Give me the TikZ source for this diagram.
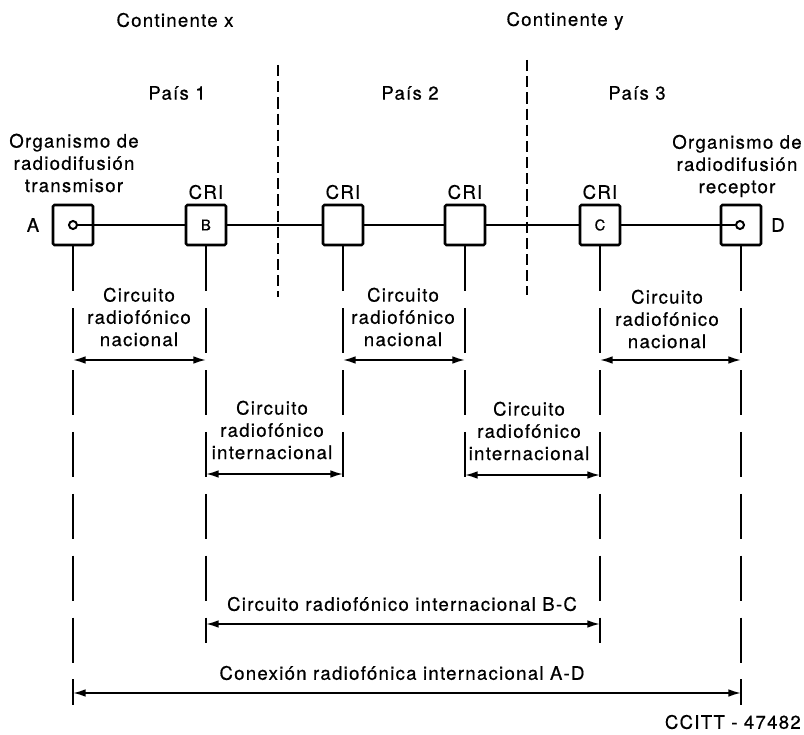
\documentclass[tikz,border=0pt]{standalone}
\usepackage{fontspec}
\setmainfont{TeX Gyre Heros}[LetterSpace=7,FakeBold=0.6]
\usetikzlibrary{arrows.meta}
\begin{document}
\begin{tikzpicture}[x=0.025cm,y=-0.025cm,
  box/.style={draw,line width=1.8pt,minimum size=1cm,inner sep=0pt,rounded corners=1pt,font=\fontsize{10.5}{11}\selectfont},
  lbl/.style={align=center,font=\fontsize{13.2}{15.8}\selectfont,inner sep=0pt},
  wire/.style={line width=1.5pt},
  border/.style={line width=1.2pt,dash pattern=on 8pt off 3.5pt},
  ext/.style={line width=1.2pt,dash pattern=on 32pt off 12pt},
  dim/.style={line width=1.3pt,{Latex[length=9pt,width=5.5pt]}-{Latex[length=9pt,width=5.5pt]}},
  port/.style={circle,draw,line width=1.4pt,fill=white,minimum size=0.2cm,inner sep=0pt}]
\useasboundingbox (0,0) rectangle (804,735);

% titles
\node[lbl] (cx) at (175,20) {Continente x};
\node[lbl] (cy) at (565,21) {Continente y};
\node[lbl] (p1) at (177,93) {País 1};
\node[lbl] (p2) at (410,93) {País 2};
\node[lbl] (p3) at (637,93) {País 3};

% boundaries
\coordinate (b1t) at (278,65); \coordinate (b1b) at (278,297);
\coordinate (b2t) at (527,60); \coordinate (b2b) at (527,295);
\draw[border] (b1t) -- (b1b);
\draw[border] (b2t) -- (b2b);

% boxes
\node[box] (A) at (73,225) {};
\node[box] (B) at (206,225) {B};
\node[box] (K3) at (343,225) {};
\node[box] (K4) at (465,225) {};
\node[box] (C) at (600,225) {C};
\node[box] (D) at (741,225) {};
\node[port] (Ap) at (73,225) {};
\node[port] (Dp) at (740,225) {};

\node[lbl] (lA) at (33,225) {A};
\node[lbl] (lD) at (778,225) {D};

\node[lbl] (org1) at (74,163) {Organismo de\\radiodifusión\\transmisor};
\node[lbl] (org2) at (737,166) {Organismo de\\radiodifusión\\receptor};
\node[lbl] (c1) at (206,192) {CRI};
\node[lbl] (c2) at (343,192) {CRI};
\node[lbl] (c3) at (465,192) {CRI};
\node[lbl] (c4) at (600,192) {CRI};

% wires
\draw[wire] (Ap) -- (B);
\draw[wire] (B) -- (K3);
\draw[wire] (K3) -- (K4);
\draw[wire] (K4) -- (C);
\draw[wire] (C) -- (Dp);

% extension lines
\coordinate (Ae) at (73,705);
\coordinate (Be) at (206,643);
\coordinate (K3e) at (343,480);
\coordinate (K4e) at (465,480);
\coordinate (Ce) at (600,643);
\coordinate (De) at (741,705);
\draw[ext] (A.south) -- (Ae);
\draw[ext] (B.south) -- (Be);
\draw[ext] (K3.south) -- (K3e);
\draw[ext] (K4.south) -- (K4e);
\draw[ext] (C.south) -- (Ce);
\draw[ext] (D.south) -- (De);

% dimension arrows
\draw[dim] (A |- 0,360) -- (B |- 0,360);
\draw[dim] (K3 |- 0,360) -- (K4 |- 0,360);
\draw[dim] (C |- 0,360) -- (D |- 0,360);
\draw[dim] (B |- 0,474) -- (K3 |- 0,474);
\draw[dim] (K4 |- 0,475) -- (C |- 0,475);
\draw[dim] (B |- 0,624) -- (C |- 0,624);
\draw[dim] (A |- 0,693) -- (D |- 0,693);

\node[lbl] (n1) at (139,317) {Circuito\\radiofónico\\nacional};
\node[lbl] (n2) at (403,317) {Circuito\\radiofónico\\nacional};
\node[lbl] (n3) at (667,319) {Circuito\\radiofónico\\nacional};
\node[lbl] (i1) at (272,430) {Circuito\\radiofónico\\internacional};
\node[lbl] (i2) at (529,431) {Circuito\\radiofónico\\internacional};
\node[lbl] (bc) at (402,604) {Circuito radiofónico internacional B-C};
\node[lbl] (ad) at (402,673) {Conexión radiofónica internacional A-D};
\node[lbl,anchor=east] (cc) at (801,722) {CCITT - 47482};
\end{tikzpicture}
\end{document}
